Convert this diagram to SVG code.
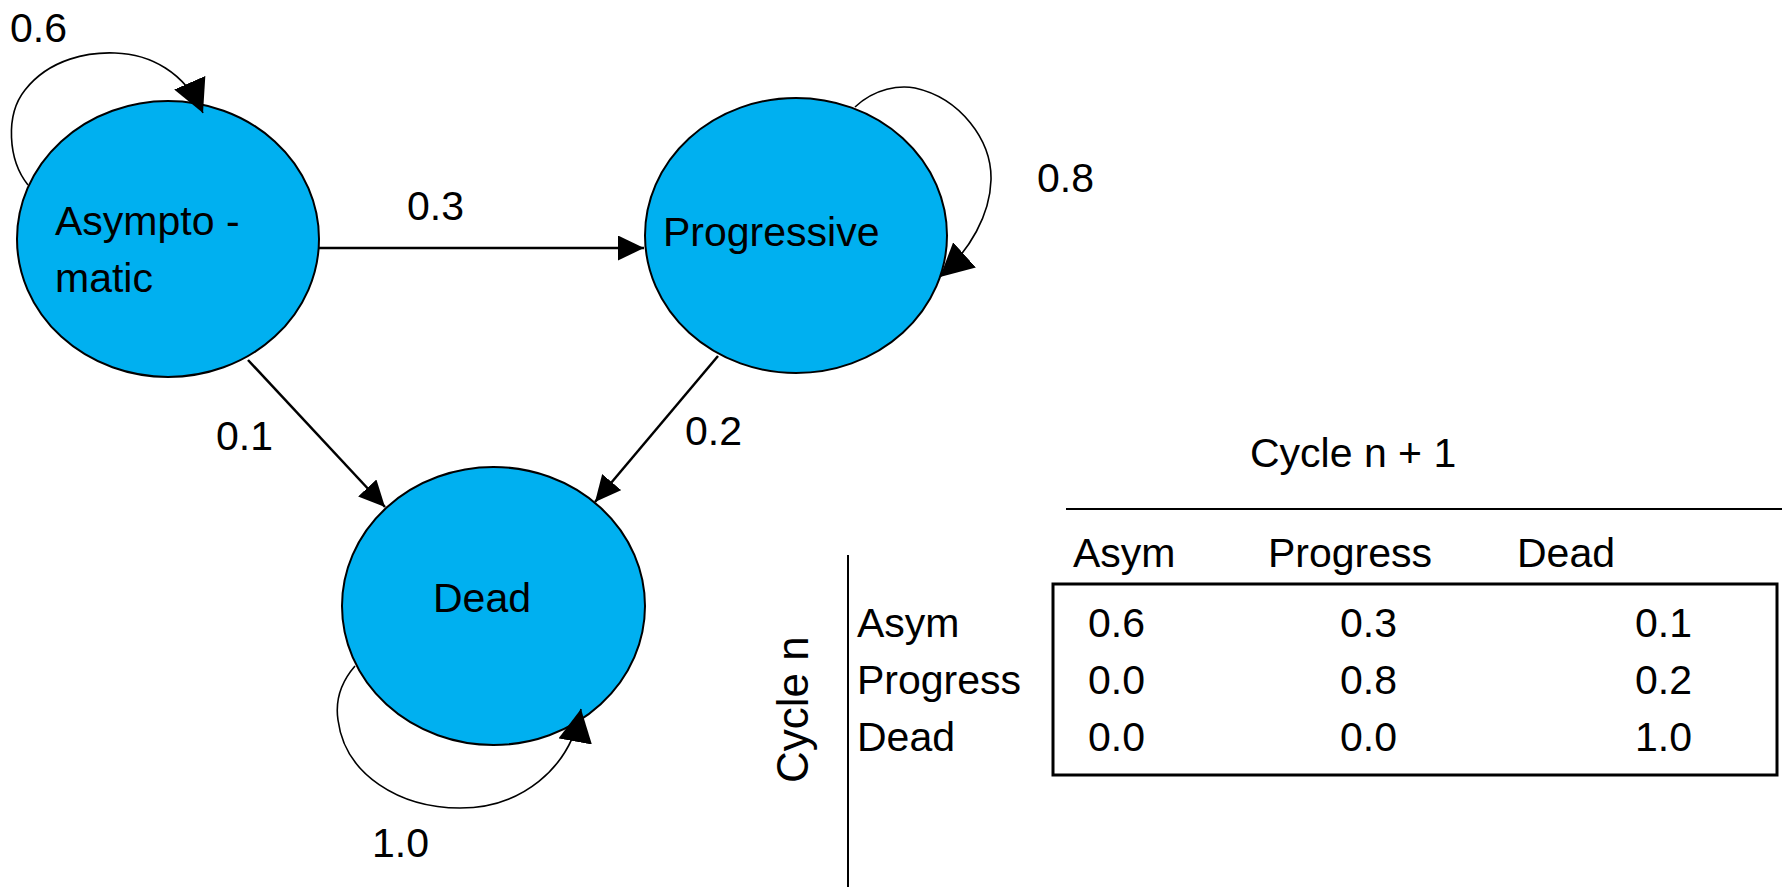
<svg xmlns="http://www.w3.org/2000/svg" width="1787" height="887" viewBox="0 0 1787 887">
<style>
  text { font-family: "Liberation Sans", Arial, sans-serif; font-size: 41px; fill: #000; }
  .node { fill: #00B0F0; stroke: #000; stroke-width: 2; }
  .edge { fill: none; stroke: #000; stroke-width: 2.5; }
  .loop { fill: none; stroke: #000; stroke-width: 1.6; }
  .tbl { fill: none; stroke: #000; stroke-width: 2; }
  .box { fill: none; stroke: #000; stroke-width: 3; }
</style>
<defs>
  <marker id="arr" markerUnits="userSpaceOnUse" viewBox="0 0 26 25" markerWidth="26" markerHeight="25" refX="26" refY="12.5" orient="auto">
    <path d="M0,0 L26,12.5 L0,25 z" fill="#000"/>
  </marker>
  <marker id="arrBig" markerUnits="userSpaceOnUse" viewBox="0 0 33 34" markerWidth="33" markerHeight="34" refX="33" refY="17" orient="auto">
    <path d="M0,0 L33,17 L0,34 z" fill="#000"/>
  </marker>
</defs>

<g id="node-asymptomatic">
  <ellipse class="node" cx="168" cy="239" rx="151" ry="138"/>
  <text x="55" y="235">Asympto -</text>
  <text x="55" y="292">matic</text>
</g>
<g id="node-progressive">
  <ellipse class="node" cx="796" cy="235.5" rx="151" ry="137.5"/>
  <text x="663" y="246">Progressive</text>
</g>
<g id="node-dead">
  <ellipse class="node" cx="493.5" cy="606" rx="151.5" ry="139"/>
  <text x="433" y="612">Dead</text>
</g>

<g id="connectors">
  <line class="edge" x1="319" y1="248" x2="644" y2="248" marker-end="url(#arr)"/>
  <line class="edge" x1="248" y1="360" x2="385" y2="507" marker-end="url(#arr)"/>
  <line class="edge" x1="718" y1="356" x2="595" y2="502" marker-end="url(#arr)"/>
  <path class="loop" d="M28,185 C8,160 5,115 25,90 C50,58 90,52 115,53 C150,54 185,72 203,113" marker-end="url(#arrBig)"/>
  <path class="loop" d="M855,107 C875,88 900,85 915,88 C960,98 992,140 991,180 C990,215 970,250 940,277" marker-end="url(#arrBig)"/>
  <path class="loop" d="M355,666 C342,681 335,700 338,720 C345,775 400,808 460,808 C520,808 570,770 581,709" marker-end="url(#arrBig)"/>
</g>

<g id="edge-labels">
  <text x="10" y="42">0.6</text>
  <text x="407" y="220">0.3</text>
  <text x="1037" y="192">0.8</text>
  <text x="216" y="450">0.1</text>
  <text x="685" y="445">0.2</text>
  <text x="372" y="857">1.0</text>
</g>

<g id="matrix">
  <text x="1250" y="467">Cycle n + 1</text>
  <line class="tbl" x1="1066" y1="509" x2="1782" y2="509" stroke="#333"/>
  <line class="tbl" x1="848" y1="555" x2="848" y2="887"/>
  <rect class="box" x="1053" y="584" width="724" height="191"/>
  <text x="1073" y="567">Asym</text>
  <text x="1268" y="567">Progress</text>
  <text x="1517" y="567">Dead</text>
  <text x="857" y="637">Asym</text>
  <text x="857" y="694">Progress</text>
  <text x="857" y="751">Dead</text>
  <text x="1088" y="637">0.6</text>
  <text x="1340" y="637">0.3</text>
  <text x="1635" y="637">0.1</text>
  <text x="1088" y="694">0.0</text>
  <text x="1340" y="694">0.8</text>
  <text x="1635" y="694">0.2</text>
  <text x="1088" y="751">0.0</text>
  <text x="1340" y="751">0.0</text>
  <text x="1635" y="751">1.0</text>
  <text transform="translate(808,783) rotate(-90)" style="font-size:44px">Cycle n</text>
</g>
</svg>
